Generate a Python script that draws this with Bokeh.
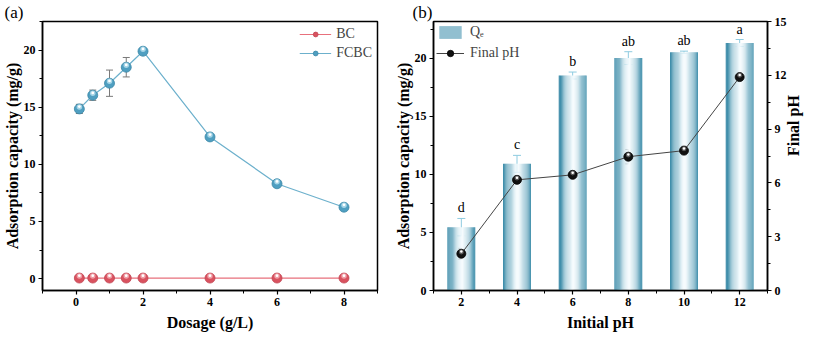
import math
import numpy as np
from bokeh.plotting import figure
from bokeh.models import (ColumnDataSource, Whisker, TeeHead, Range1d, LinearAxis,
                          Legend, LegendItem, Title, FixedTicker)
from bokeh.layouts import row
from bokeh.transform import dodge
from bokeh.core.properties import value
from bokeh.embed import file_html
from bokeh.resources import INLINE

# ---------------- data (a) ----------------
dosage = [0.1, 0.5, 1, 1.5, 2, 4, 6, 8]
fcbc = [14.85, 16.05, 17.1, 18.5, 19.9, 12.4, 8.3, 6.25]
fcbc_err = [0.4, 0.45, 1.15, 0.85, 0.2, 0.2, 0.1, 0.1]
bc = [0.05, 0.05, 0.05, 0.05, 0.05, 0.05, 0.05, 0.05]
bc_err = [0.05, 0.05, 0.05, 0.05, 0.05, 0.05, 0.05, 0.05]

# ---------------- data (b) ----------------
init_ph = [2, 4, 6, 8, 10, 12]
qe = [5.45, 10.9, 18.5, 20.0, 20.5, 21.3]
qe_err = [0.75, 0.73, 0.3, 0.55, 0.1, 0.3]
letters = ["d", "c", "b", "ab", "ab", "a"]
final_ph = [2.05, 6.17, 6.45, 7.46, 7.8, 11.9]
final_ph_err = [0.3, 0.12, 0.12, 0.4, 0.25, 0.1]

SERIF = "Liberation Serif"
H = 339


def style_axis(ax):
    ax.major_label_text_font = SERIF
    ax.major_label_text_font_style = "bold"
    ax.major_label_text_font_size = "12px"
    ax.major_label_text_color = "black"
    ax.axis_label_text_font = SERIF
    ax.axis_label_text_font_style = "bold"
    ax.axis_label_text_font_size = "16px"
    ax.axis_label_text_color = "black"
    ax.axis_line_width = 1.5
    ax.axis_line_color = "black"
    ax.major_tick_line_color = "black"
    ax.minor_tick_line_color = "black"
    ax.major_tick_line_width = 1.2
    ax.minor_tick_line_width = 1.0
    ax.major_tick_in = 0
    ax.major_tick_out = 4
    ax.minor_tick_in = 0
    ax.minor_tick_out = 3
    ax.major_label_standoff = 3


def sphere(p, src, x, y, base, dark, light, size, hl_off, y_range_name="default"):
    r = p.scatter(x, y, source=src, size=size, fill_color=base, line_color=dark,
                  line_width=0.8, y_range_name=y_range_name)
    p.scatter(x, dodge(y, hl_off), source=src, size=size * 0.55, fill_color=light,
              line_color=None, y_range_name=y_range_name)
    p.scatter(x, dodge(y, hl_off * 1.2), source=src, size=size * 0.28, fill_color="white",
              line_color=None, y_range_name=y_range_name)
    return r


def frame_style(p):
    p.xgrid.visible = False
    p.ygrid.visible = False
    p.outline_line_color = "black"
    p.outline_line_width = 1.5
    p.background_fill_color = "white"
    p.border_fill_color = "white"


def panel_title(p, text, offset):
    t = Title(text=text, align="left", offset=offset, standoff=0,
              text_font=SERIF, text_font_size="17px", text_font_style="normal",
              text_color="black", vertical_align="bottom")
    p.add_layout(t, "above")


# ================= panel (a) =================
pa = figure(width=390, height=H, output_backend="svg", toolbar_location=None,
            x_range=Range1d(-1, 9), y_range=Range1d(-1.04, 22.5),
            min_border_left=41, min_border_right=13, min_border_top=19, min_border_bottom=48)
frame_style(pa)
panel_title(pa, "(a)", -38)

src_a = ColumnDataSource(dict(x=dosage, fcbc=fcbc,
                              fl=np.array(fcbc) - np.array(fcbc_err),
                              fu=np.array(fcbc) + np.array(fcbc_err),
                              bc=bc,
                              bl=np.array(bc) - np.array(bc_err),
                              bu=np.array(bc) + np.array(bc_err)))

l_bc = pa.line("x", "bc", source=src_a, line_color="#e8707c", line_width=1.2)
l_fc = pa.line("x", "fcbc", source=src_a, line_color="#6cb0cc", line_width=1.2)
s_bc = sphere(pa, src_a, "x", "bc", "#d9525f", "#c04452", "#f0a0a8", 10, 0.17)
s_fc = sphere(pa, src_a, "x", "fcbc", "#4f9fc1", "#3a86a6", "#a5d5e7", 10, 0.17)

pa.add_layout(Whisker(source=src_a, base="x", lower="fl", upper="fu", line_color="#7a7a7a",
                      line_width=1,
                      upper_head=TeeHead(size=7, line_color="#7a7a7a", line_width=1),
                      lower_head=TeeHead(size=7, line_color="#7a7a7a", line_width=1)))
pa.add_layout(Whisker(source=src_a, base="x", lower="bl", upper="bu", line_color="#7a7a7a",
                      line_width=1,
                      upper_head=TeeHead(size=6, line_color="#7a7a7a", line_width=1),
                      lower_head=TeeHead(size=6, line_color="#7a7a7a", line_width=1)))

for ax in pa.xaxis + pa.yaxis:
    style_axis(ax)
pa.xaxis.axis_label = "Dosage (g/L)"
pa.yaxis.axis_label = "Adsorption capacity (mg/g)"
pa.xaxis.ticker = FixedTicker(ticks=[0, 2, 4, 6, 8], minor_ticks=[-1, 1, 3, 5, 7, 9])
pa.yaxis.ticker = FixedTicker(ticks=[0, 5, 10, 15, 20], minor_ticks=[2.5, 7.5, 12.5, 17.5, 22.5])
pa.xaxis.axis_label_standoff = 5
pa.yaxis.axis_label_standoff = 0

leg_a = Legend(items=[LegendItem(label="BC", renderers=[l_bc, s_bc]),
                      LegendItem(label="FCBC", renderers=[l_fc, s_fc])],
               location="top_right", label_text_font=SERIF, label_text_font_size="14px",
               background_fill_alpha=0, border_line_color=None, glyph_width=32,
               glyph_height=12, label_height=12, spacing=3, padding=0, margin=5,
               label_standoff=5)
pa.add_layout(leg_a)

# ================= panel (b) =================
pb = figure(width=423, height=H, output_backend="svg", toolbar_location=None,
            x_range=Range1d(1, 13), y_range=Range1d(0, 23.15),
            min_border_left=43, min_border_right=44, min_border_top=19, min_border_bottom=49)
frame_style(pb)
panel_title(pb, "(b)", -21)
pb.extra_y_ranges = {"ph": Range1d(0, 15)}

src_b = ColumnDataSource(dict(x=init_ph, qe=qe,
                              ql=np.array(qe) - np.array(qe_err),
                              qu=np.array(qe) + np.array(qe_err),
                              let=letters,
                              ph=final_ph,
                              pl=np.array(final_ph) - np.array(final_ph_err),
                              pu=np.array(final_ph) + np.array(final_ph_err)))

# gradient bars built from thin strips
edge = np.array([0x3a, 0x8b, 0xa8])
white = np.array([0xf6, 0xfc, 0xfe])
n = 25
w = 1.0 / n
legend_bar = None
for i in range(n):
    c = (i + 0.5) / n * 2 - 1  # -1..1
    t = min(1.0, abs(c - 0.05) / 0.95)
    f = t ** 1.4
    col = edge * f + white * (1 - f)
    hexc = "#%02x%02x%02x" % tuple(int(round(v)) for v in col)
    off = -0.5 + (i + 0.5) * w
    r = pb.vbar(x=dodge("x", off), top="qe", width=w * 1.08, source=src_b,
                fill_color=hexc, line_color=None)
    if i == 5:
        legend_bar = r

pb.add_layout(Whisker(source=src_b, base="x", lower="ql", upper="qu", line_color="#8ecbe0",
                      line_width=1,
                      upper_head=TeeHead(size=8, line_color="#8ecbe0", line_width=1),
                      lower_head=TeeHead(size=8, line_color="#8ecbe0", line_width=1)))

pb.text("x", "qu", text="let", source=src_b, text_font=value(SERIF), text_font_size="14px",
        text_align="center", text_baseline="bottom", y_offset=-3, text_color="black")

l_ph = pb.line("x", "ph", source=src_b, line_color="#444444", line_width=1, y_range_name="ph")
s_ph = sphere(pb, src_b, "x", "ph", "#111111", "#000000", "#5a5a5a", 9, 0.1, y_range_name="ph")
pb.add_layout(Whisker(source=src_b, base="x", lower="pl", upper="pu", line_color="#555555",
                      line_width=1, y_range_name="ph",
                      upper_head=TeeHead(size=6, line_color="#555555", line_width=1),
                      lower_head=TeeHead(size=6, line_color="#555555", line_width=1)))

ax_r = LinearAxis(y_range_name="ph", axis_label="Final pH",
                  ticker=FixedTicker(ticks=[0, 3, 6, 9, 12, 15],
                                     minor_ticks=[1.5, 4.5, 7.5, 10.5, 13.5]))
try:
    ax_r.axis_label_orientation = math.pi / 2
except Exception:
    pass
pb.add_layout(ax_r, "right")

for ax in pb.xaxis + pb.yaxis:
    style_axis(ax)
pb.xaxis.axis_label = "Initial pH"
pb.yaxis[0].axis_label = "Adsorption capacity (mg/g)"
pb.xaxis.ticker = FixedTicker(ticks=init_ph, minor_ticks=[1, 3, 5, 7, 9, 11, 13])
pb.yaxis[0].ticker = FixedTicker(ticks=[0, 5, 10, 15, 20], minor_ticks=[2.5, 7.5, 12.5, 17.5, 22.5])
pb.xaxis.axis_label_standoff = 5
pb.yaxis[0].axis_label_standoff = 0
ax_r.axis_label_standoff = 4

leg_b = Legend(items=[LegendItem(label="Qₑ", renderers=[legend_bar]),
                      LegendItem(label="Final pH", renderers=[l_ph, s_ph])],
               location="top_left", label_text_font=SERIF, label_text_font_size="14px",
               background_fill_alpha=0, border_line_color=None, glyph_width=28,
               glyph_height=16, label_height=16, spacing=5, padding=1, margin=3,
               label_standoff=6)
pb.add_layout(leg_b)

layout = row(pa, pb)
open("out.html", "w").write(file_html(layout, INLINE))
